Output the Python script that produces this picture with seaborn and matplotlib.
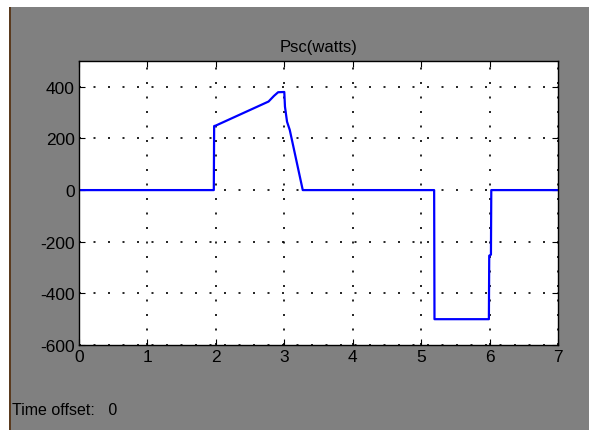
import matplotlib
matplotlib.use("Agg")
import matplotlib.pyplot as plt
import seaborn as sns
import pandas as pd

sns.set_style("white")
plt.rcParams['font.family'] = ['Liberation Sans', 'DejaVu Sans']
plt.rcParams['axes.unicode_minus'] = False

time_s = [0.0, 1.97, 1.975, 2.0, 2.77, 2.85, 2.91, 3.0, 3.01, 3.04, 3.08, 3.27, 5.19, 5.195,
          5.99, 5.995, 6.02, 6.025, 7.0]
psc_w = [0, 0, 248, 250, 343, 365, 379, 380, 323, 265, 233, 0, 0, -500,
         -500, -254, -250, 0, 0]

title = "Psc(watts)"
x_ticks = [0, 1, 2, 3, 4, 5, 6, 7]
y_ticks = [-600, -400, -200, 0, 200, 400]

df = pd.DataFrame({"t": time_s, "p": psc_w})

fig = plt.figure(figsize=(5.89, 4.31), dpi=100)
fig.patch.set_facecolor("white")

# background panel (gray with brown left edge)
bg = fig.add_axes([0, 0, 1, 1], zorder=-5)
bg.set_xlim(0, 589)
bg.set_ylim(431, 0)
bg.axis("off")
bg.axvspan(11, 589, ymin=0, ymax=1 - 8/431, color="#808080", lw=0)
bg.axvspan(9, 11, ymin=0, ymax=1 - 8/431, color="#5a3a1e", lw=0)

ax = fig.add_axes([79/589, 1 - 346/431, (558 - 79)/589, (346 - 62)/431], zorder=1)
ax.set_facecolor("white")
sns.lineplot(data=df, x="t", y="p", ax=ax, color="#0000ff", linewidth=1.6,
             estimator=None, sort=False)

ax.set_xlim(0, 7)
ax.set_ylim(-600, 500)
ax.set_xticks(x_ticks)
ax.set_yticks(y_ticks)
ax.set_xlabel("")
ax.set_ylabel("")
ax.grid(True, color="black", linestyle=(0, (1.2, 7.5)), linewidth=1.2)
for s in ax.spines.values():
    s.set_color("black")
    s.set_linewidth(1.0)
    s.set_visible(True)
ax.tick_params(direction="in", length=4, color="black", labelsize=12.5, labelcolor="black",
               top=True, right=True, bottom=True, left=True, pad=3)
ax.set_title(title, fontsize=12, color="black", pad=7)

fig.text(12/589, 1 - 411/431, "Time offset:   0", fontsize=11.5, color="black",
         ha="left", va="center")

fig.savefig("out.png", dpi=100, facecolor=fig.get_facecolor())
